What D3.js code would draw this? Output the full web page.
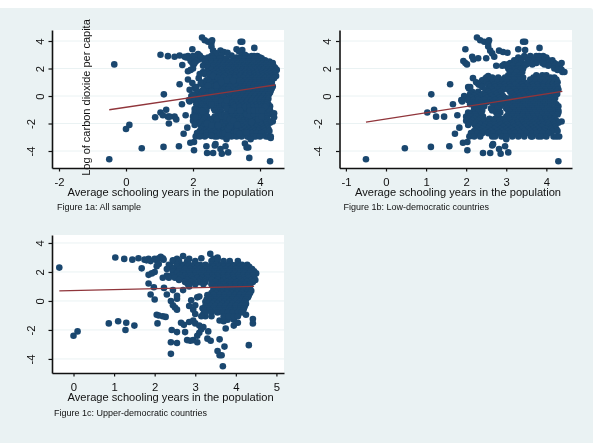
<!DOCTYPE html>
<html><head><meta charset="utf-8">
<script src="https://cdn.jsdelivr.net/npm/d3@7/dist/d3.min.js"></script>
<style>html,body{margin:0;padding:0;background:#fff}svg{display:block;filter:blur(0.35px)}text{font-family:"Liberation Sans",Arial,sans-serif;fill:#111}</style>
</head><body><svg id="c" width="599" height="443"></svg>
<script>
// sparse points [schooling, log CO2]
const lowSparse=[[-0.5,-4.6],[0.47,-3.8],[1.12,-3.7],[1.58,-3.65],[1.13,0.12],[1.03,-1.2],[1.2,-1.0],[1.25,-1.5],[1.45,-1.5],[1.6,0.85],[1.67,-0.6],[1.78,-1.4],[1.83,-2.3],[1.72,-2.75],[1.92,-3.4],[2.03,-3.35],[2.03,-3.95],[2.42,-4.15],[2.6,-4.15],[2.65,-3.6],[2.67,-3.5],[2.82,-3.85],[2.86,-4.2],[2.97,-3.65],[3.05,-4.1],[4.3,-4.75],[1.9,-0.4],[2.27,4.25],[2.35,4.05],[2.45,3.95],[2.55,3.85],[2.57,4.05],[2.55,3.6],[2.6,3.3],[2.65,3.1],[2.7,2.85],[2.82,3.3],[2.92,3.2],[3.03,3.15],[3.3,3.4],[3.42,3.95],[3.47,3.95],[3.47,3.35],[3.83,3.5],[1.98,3.4],[1.93,2.55],[1.98,2.4],[2.02,2.3],[2.15,2.85],[2.18,2.65],[2.3,2.75],[2.5,2.75],[2.17,1.3],[2.3,0.9],[2.07,0.55],[2.55,1.45],[2.4,1.15],[4.38,-1.85],[3.0,-3.15],[3.65,-2.95]];
const lowRowY=[2.9,2.8,2.6,2.4,2.3,2.2,2.0,1.9,1.75,1.5,1.35,1.2,1.0,0.82,0.65,0.47,0.3,0.15,0,-0.15,-0.3,-0.45,-0.6,-0.75,-0.9,-1.05,-1.2,-1.35,-1.5,-1.65,-1.8,-1.95,-2.1,-2.25,-2.4,-2.55,-2.7,-2.95];
const lowRowX=[
[3.45,3.6,3.75,3.82,3.92],
[3.3,3.45,3.6,3.75,3.85,3.95,4.0],
[3.2,3.35,3.55,3.7,3.8,3.95,4.05,4.15],
[3.1,3.25,3.4,3.55,3.75,3.9,4.05,4.2,4.38],
[2.95,3.05,3.2,3.35,3.5,3.65,3.95,4.12,4.25],
[2.75,2.9,3.0,3.15,3.3,3.45,4.05,4.2,4.3],
[3.05,3.15,3.3,3.42,4.2,4.35],
[3.08,3.22,3.35,4.28,4.38],
[3.1,3.25,3.4,4.4,4.45],
[3.05,3.2,3.35,3.75,3.9,4.0],
[2.5,2.65,2.8,2.97,3.12,3.28,3.42,3.68,3.82,3.97,4.1,4.2],
[2.45,2.6,2.75,2.9,3.05,3.2,3.35,3.6,3.75,3.9,4.05,4.15,4.25],
[2.25,2.38,2.5,2.65,2.78,2.9,3.02,3.15,3.3,3.45,3.6,3.72,3.85,3.98,4.1,4.2,4.28],
[2.32,2.55,2.7,2.85,2.95,3.08,3.22,3.38,3.52,3.66,3.78,3.92,4.05,4.15,4.25],
[2.05,2.1,2.4,2.6,2.72,2.85,2.98,3.1,3.3,3.42,3.55,3.68,3.8,3.92,4.05,4.18,4.28],
[2.48,2.65,2.78,2.92,3.05,3.2,3.35,3.48,3.6,3.72,3.85,3.98,4.1,4.22,4.3],
[2.15,2.3,2.55,2.7,2.85,3.1,3.25,3.38,3.5,3.62,3.75,3.88,4.0,4.12,4.25],
[2.1,2.25,2.42,2.6,2.75,2.88,3.15,3.28,3.42,3.55,3.68,3.8,3.92,4.05,4.15,4.27],
[1.95,2.08,2.2,2.35,2.48,2.62,2.78,2.92,3.2,3.32,3.45,3.58,3.7,3.82,3.95,4.05,4.2],
[2.0,2.15,2.28,2.52,2.68,2.82,2.98,3.1,3.22,3.35,3.48,3.6,3.72,3.85,3.98,4.1,4.22],
[1.88,2.05,2.18,2.3,2.45,2.6,2.72,2.85,3.0,3.12,3.25,3.4,3.52,3.65,3.78,3.9,4.02,4.15],
[2.15,2.35,2.52,2.65,2.8,2.95,3.08,3.24,3.36,3.48,3.62,3.74,3.86,3.98,4.1,4.2],
[2.1,2.25,2.4,2.7,2.9,3.05,3.18,3.3,3.42,3.55,3.68,3.8,3.92,4.05,4.25],
[2.28,2.45,2.7,2.85,3.1,3.22,3.35,3.48,3.6,3.72,3.85,3.97,4.1,4.3],
[2.2,2.35,2.62,2.78,3.0,3.15,3.28,3.4,3.55,3.65,3.78,3.9,4.02,4.2,4.28],
[2.25,2.4,2.65,2.82,3.05,3.2,3.32,3.45,3.58,3.7,3.82,3.95,4.08,4.22,4.3],
[2.05,2.15,2.3,2.75,2.85,3.1,3.22,3.35,3.48,3.6,3.72,3.85,3.98,4.1,4.25,4.3],
[2.1,2.22,2.38,2.8,3.05,3.18,3.3,3.42,3.55,3.65,3.78,3.9,4.02,4.15,4.28],
[2.0,2.1,2.25,2.42,2.78,3.0,3.15,3.28,3.4,3.55,3.68,3.8,3.95,4.05,4.2],
[2.05,2.2,2.35,2.58,2.72,2.88,3.08,3.2,3.32,3.45,3.58,3.7,3.85,3.98,4.1,4.2],
[2.0,2.15,2.3,2.5,2.65,2.8,2.92,3.12,3.22,3.38,3.5,3.62,3.72,3.85,4.0,4.12,4.25],
[2.1,2.25,2.42,2.55,2.7,2.82,2.98,3.15,3.28,3.42,3.52,3.65,3.78,3.9,4.02,4.18,4.3],
[2.05,2.22,2.35,2.48,2.6,2.72,2.85,3.0,3.18,3.3,3.45,3.58,3.7,3.82,3.92,4.05,4.2],
[2.3,2.45,2.58,2.75,2.92,3.05,3.2,3.35,3.48,3.62,3.75,3.88,4.1,4.22],
[2.25,2.4,2.55,2.7,2.85,3.0,3.12,3.28,3.4,3.55,3.68,3.8,3.98,4.12,4.25],
[2.2,2.35,2.48,2.62,2.78,2.9,3.05,3.18,3.3,3.45,3.6,3.72,3.85,3.95,4.15,4.28],
[2.12,2.28,2.4,2.55,2.68,2.82,2.95,3.1,3.22,3.35,3.5,3.65,3.75,3.9,4.05],
[2.08,2.2,2.35,2.65,2.72,2.88,3.0,3.15,3.3,3.45,3.62,3.8,3.87,4.0,4.18,4.25,4.32]];
const upperSparse=[[-0.35,2.3],[0,-2.4],[0.1,-2.1],[0.87,-1.55],[1.1,-1.4],[1.28,-2],[1.3,-1.5],[1.5,-1.7],[1.03,3],[1.25,2.9],[1.45,2.85],[1.6,2.95],[1.68,2.25],[1.75,2.85],[1.85,2.9],[1.8,2.8],[1.9,2.75],[2.0,2.9],[2.1,2.95],[2.15,3.05],[2.2,2.95],[2.22,2.85],[2.05,2.8],[2.1,2.55],[2.05,2.4],[2.0,2.0],[1.93,1.9],[1.85,1.8],[1.85,1.2],[1.98,0.95],[1.9,0.45],[2.0,0.1],[2.23,0.9],[2.3,0.45],[2.4,0],[2.45,0.75],[2.45,-0.3],[2.5,-0.45],[2.55,-0.6],[2.55,0.15],[2.55,0.35],[2.7,0.75],[2.05,-0.95],[2.1,-1.0],[2.2,-1.05],[2.27,-1.1],[2.07,-1.55],[2.42,-2],[2.55,-2.15],[2.4,-2.85],[2.55,-2.9],[2.4,-3.65],[2.65,-1.5],[2.72,-1.65],[2.75,-2.15],[2.8,-2.7],[2.88,-2.75],[2.95,-2.7],[3.05,-2.85],[2.85,-1.45],[2.95,-1.35],[3.0,-1.55],[3.05,-2.4],[3.1,-2.2],[3.15,-1.95],[3.1,-1.7],[3.2,-1.8],[3.25,-1.05],[3.2,-0.9],[3.3,-2.6],[3.38,-2.75],[3.32,-2.1],[3.6,-2.65],[3.55,-3.45],[3.6,-3.75],[3.65,-3.75],[3.68,-4.5],[3.72,-3.15],[3.6,-1.35],[3.7,-1.4],[3.75,-1.9],[3.8,-1.3],[3.95,-1.3],[3.95,-1.7],[4.05,-1.5],[4.25,-0.95],[4.32,-3.05],[4.42,-1.25],[4.42,-1.55],[2.85,-0.35],[2.95,-0.6],[3.0,-0.9],[3,-0.3],[2.9,0.05],[3.05,0.25],[3.1,0.3],[2.7,3.1],[3.37,3.25],[3.55,3.0],[3.15,2.95],[2.45,2.8],[2.6,2.2]];
const upperRowY=[2.9,2.75,2.5,2.35,2.2,2.05,1.9,1.75,1.6,1.45,1.3,1.15,1.0,0.85,0.7,0.55,0.4,0.25,0.1,-0.05,-0.2,-0.35,-0.5,-0.65,-0.8,-1.05];
const upperRowX=[
[2.55,2.85,3.45,3.55],
[2.45,2.6,2.8,3.0,3.4,3.55,3.7,3.85,4.05],
[2.35,2.55,2.7,2.85,2.98,3.12,3.25,3.4,3.52,3.65,3.78,3.9,4.02,4.15,4.28],
[2.4,2.55,2.68,2.8,2.92,3.05,3.18,3.32,3.45,3.58,3.7,3.82,3.95,4.08,4.2,4.33],
[2.3,2.45,2.62,2.75,2.88,3.0,3.12,3.25,3.38,3.5,3.62,3.75,3.88,4.0,4.12,4.25,4.4],
[2.45,2.6,2.78,2.92,3.05,3.18,3.3,3.42,3.55,3.68,3.8,3.92,4.05,4.18,4.3,4.45],
[2.55,2.7,2.85,3.0,3.1,3.22,3.35,3.48,3.6,3.72,3.85,3.98,4.1,4.22,4.35,4.5],
[2.3,2.42,2.62,2.75,2.88,3.02,3.15,3.28,3.42,3.55,3.68,3.8,3.92,4.05,4.18,4.3,4.42],
[2.2,2.35,2.5,2.65,2.8,2.92,3.05,3.18,3.3,3.45,3.58,3.7,3.82,3.95,4.08,4.2,4.32,4.45],
[2.6,2.8,2.95,3.12,3.25,3.4,3.55,3.7,3.85,3.95,4.1,4.22,4.38,4.48],
[2.75,2.9,3.1,3.25,3.5,3.65,3.78,3.9,4.02,4.15,4.28,4.42],
[2.82,3.0,3.2,3.4,3.58,3.7,3.85,3.98,4.1,4.22,4.35],
[2.85,3.5,3.62,3.75,3.88,4.0,4.12,4.25,4.35],
[3.45,3.6,3.72,3.85,3.98,4.1,4.22,4.32],
[3.45,3.55,3.68,3.8,3.92,4.05,4.18,4.3,4.38],
[3.4,3.52,3.65,3.78,3.9,4.02,4.15,4.28,4.35],
[3.3,3.45,3.6,3.72,3.85,3.98,4.1,4.22,4.32],
[3.35,3.48,3.6,3.72,3.85,3.95,4.08,4.2,4.3],
[3.28,3.4,3.52,3.65,3.78,3.9,4.02,4.15,4.25],
[3.25,3.35,3.48,3.6,3.72,3.85,3.98,4.1,4.22],
[3.3,3.42,3.55,3.68,3.8,3.92,4.05,4.18,4.25],
[3.25,3.38,3.5,3.62,3.75,3.88,4.0,4.12,4.22],
[3.18,3.3,3.45,3.6,3.72,3.85,3.98,4.12,4.2],
[3.22,3.35,3.5,3.62,3.75,3.88,4.0,4.1,4.18],
[3.25,3.4,3.55,3.68,3.8,3.92,4.05,4.15],
[3.15,3.4,3.7,3.82,3.95,4.05]];
const fitAll=[[-0.5,-1.0],[4.45,0.8]];
const fitLow=[[-0.5,-1.9],[4.4,0.33]];
const fitUpper=[[-0.35,0.7],[4.45,1.0]];
const xTicksA=[-2,0,2,4], xTicksB=[-1,0,1,2,3,4], xTicksC=[0,1,2,3,4,5];
const yTicks=[-4,-2,0,2,4];
const xTitle="Average schooling years in the population";
const yTitle="Log of carbon dioxide per capita";
const captions=["Figure 1a: All sample","Figure 1b: Low-democratic countries","Figure 1c: Upper-democratic countries"];

const expand=(rows,ys)=>rows.flatMap((xs,i)=>xs.map(x=>[x,ys[i]]));
const low=lowSparse.concat(expand(lowRowX,lowRowY));
const upper=upperSparse.concat(expand(upperRowX,upperRowY));
const svg=d3.select("#c");
const label=d=>d3.format("d")(d).replace("−","-");
svg.append("rect").attr("x",-6).attr("y",8).attr("width",599).attr("height",441).attr("rx",3).attr("fill","#eaf2f3");

function panel(o){
  const x=d3.scaleLinear().domain(o.xd).range([o.l,o.r]);
  const y=d3.scaleLinear().domain(o.yd).range([o.b,o.t]);
  const g=svg.append("g");
  g.append("rect").attr("x",o.l).attr("y",o.t).attr("width",o.r-o.l).attr("height",o.b-o.t).attr("fill","#fff");
  g.selectAll("line.grid").data(yTicks).join("line").attr("x1",o.l).attr("x2",o.r).attr("y1",d=>y(d)).attr("y2",d=>y(d)).attr("stroke","#eaf2f3").attr("stroke-width",1);
  g.append("g").selectAll("circle").data(o.pts).join("circle").attr("cx",d=>x(d[0])).attr("cy",d=>y(d[1])).attr("r",3.3).attr("fill","#1a476f");
  g.append("path").attr("d",d3.line().x(d=>x(d[0])).y(d=>y(d[1]))(o.fit)).attr("stroke","#90353b").attr("stroke-width",1.3).attr("fill","none");
  const ax=g.append("g").attr("transform",`translate(0,${o.b})`).call(d3.axisBottom(x).tickValues(o.xt).tickSize(3.5).tickSizeOuter(0).tickFormat(label));
  const ay=g.append("g").attr("transform",`translate(${o.l},0)`).call(d3.axisLeft(y).tickValues(yTicks).tickSize(3.5).tickSizeOuter(0).tickFormat(label));
  [ax,ay].forEach(a=>{a.selectAll("path,line").attr("stroke","#111").attr("stroke-width",1.2);a.select("path").attr("stroke-width",1.6);a.selectAll("text").attr("font-size",11.3).attr("font-family",null).style("fill","#111");});
  ax.selectAll("text").attr("y",null).attr("dy",null).attr("transform",`translate(0,${o.tickBase-o.b})`).attr("text-anchor","middle");
  ay.selectAll("text").attr("x",null).attr("dy",null).attr("text-anchor","middle").attr("transform",d=>`translate(${d<0?-21.5:-12.5},0) rotate(-90) translate(0,4)`);
  svg.append("text").attr("x",o.titleX).attr("y",o.titleBase).attr("text-anchor","middle").attr("font-size",11.12).text(xTitle);
  svg.append("text").attr("x",o.capX).attr("y",o.capBase).attr("font-size",9).text(o.cap);
}
panel({l:52,r:284,t:30,b:168,xd:[-2.209,4.716],yd:[-5.236,4.8],pts:low.concat(upper),fit:fitAll,xt:xTicksA,tickBase:185.5,titleX:170.6,titleBase:195.5,capX:57,capBase:210,cap:captions[0]});
panel({l:339.5,r:572,t:30,b:168,xd:[-1.16,4.64],yd:[-5.236,4.8],pts:low,fit:fitLow,xt:xTicksB,tickBase:185.5,titleX:458,titleBase:195.5,capX:343.5,capBase:210,cap:captions[1]});
panel({l:52,r:284,t:235,b:373,xd:[-0.53,5.187],yd:[-4.97,4.55],pts:upper,fit:fitUpper,xt:xTicksC,tickBase:390.5,titleX:170.6,titleBase:401,capX:54,capBase:416,cap:captions[2]});
svg.append("text").attr("transform","translate(90,97.5) rotate(-90)").attr("text-anchor","middle").attr("font-size",11).text(yTitle);
</script></body></html>
